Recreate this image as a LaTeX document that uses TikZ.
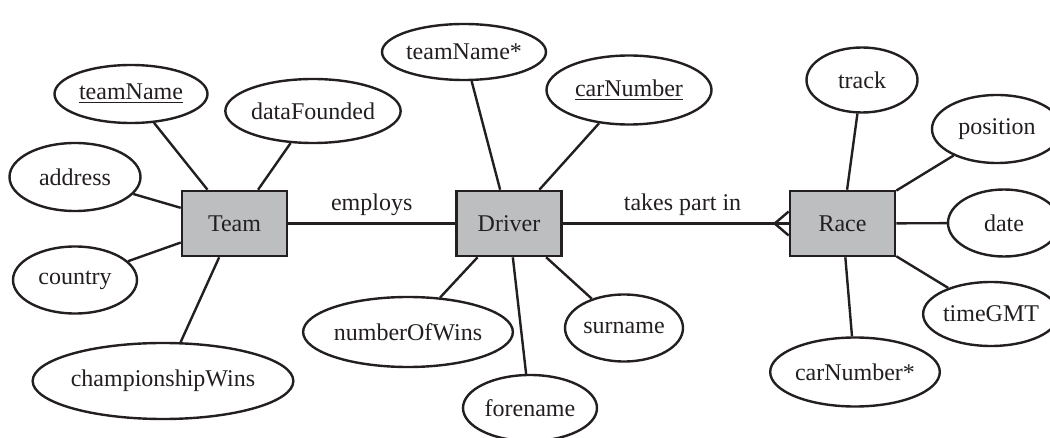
\documentclass[tikz,border=0pt]{standalone}
\usepackage{fontspec}
\setmainfont{Liberation Serif}
\usetikzlibrary{calc,shapes.geometric}
\definecolor{entfill}{RGB}{188,190,192}
\definecolor{ink}{RGB}{35,31,32}

\begin{document}
\begin{tikzpicture}[x=0.5pt, y=-0.5pt, line width=1.2pt, color=ink,
    font=\fontsize{12}{14}\selectfont,
    entity/.style={draw, fill=entfill, rectangle, line width=1.3pt,
      minimum width=52.5pt, minimum height=32.5pt, inner sep=0pt},
    attr/.style 2 args={draw, ellipse, inner sep=0pt,
      minimum width=#1, minimum height=#2}]
			%%%%% FRAME %%%%%
			\useasboundingbox (0, 0) rectangle (1050, 438);
			\clip (0, 0) rectangle (1050, 438);
			
			%%%%% ENTITIES %%%%%
			\node[entity] (team) at (234.5, 223.5) {Team};
			\node[entity] (driver) at (509, 223.5) {Driver};
			\node[entity] (race) at (842.5, 223.5) {Race};
			
			%%%%% TEAM ATTRIBUTES %%%%%
			\node[attr={76.5pt}{29pt}] (teamname) at (131, 94) {\underline{teamName}};
			\node[attr={82pt}{32pt}] (founded) at (313, 111) {dataFounded};
			\node[attr={65.5pt}{34pt}] (address) at (75, 177) {address};
			\node[attr={62pt}{33.5pt}] (country) at (75, 280) {country};
			\node[attr={110pt}{38pt}] (champwins) at (163, 381) {championshipWins};
			
			\draw (team) -- (teamname);
			\draw (team) -- (founded);
			\draw (team) -- (address);
			\draw (team) -- (country);
			\draw (team) -- (champwins);
			
			%%%%% DRIVER ATTRIBUTES %%%%%
			\node[attr={81pt}{28pt}] (teamfk) at (464, 52) {teamName*};
			\node[attr={82.5pt}{34.5pt}] (carnumber) at (629, 90) {\underline{carNumber}};
			\node[attr={91.5pt}{35pt}] (numwins) at (408, 332) {numberOfWins};
			\node[attr={67pt}{33pt}] (forename) at (530, 408) {forename};
			\node[attr={59pt}{33.5pt}] (surname) at (624, 328) {surname};
			
			\draw (driver) -- (teamfk);
			\draw (driver) -- (carnumber);
			\draw (driver) -- (numwins);
			\draw (driver) -- (forename);
			\draw (driver) -- (surname);
			
			%%%%% RACE ATTRIBUTES %%%%%
			\node[attr={55.5pt}{32.5pt}] (track) at (862, 80) {track};
			\node[attr={65pt}{34pt}] (position) at (997, 129) {position};
			\node[attr={56pt}{33.5pt}] (date) at (1004, 223) {date};
			\node[attr={64pt}{32pt}] (timegmt) at (991, 314) {timeGMT};
			\node[attr={83.5pt}{34.5pt}] (carfk) at (855, 372) {carNumber*};
			
			\draw (race) -- (track);
			\draw (race) -- (position);
			\draw (race) -- (date);
			\draw (race) -- (timegmt);
			\draw (race) -- (carfk);
			
			%%%%% RELATIONSHIPS %%%%%
			\draw (team) -- node[above] {employs} (driver);
			\draw (driver) -- node[above, pos=0.53] {takes part in} (race);
			
			% crow's foot on the race side
			\coordinate (foot) at ($(race.west)+(-14, 0)$);
			\coordinate (footup) at ($(race.west)+(0, -12)$);
			\coordinate (footdown) at ($(race.west)+(0, 12)$);
			\draw (footup) -- (foot) -- (footdown);
		\end{tikzpicture}
\end{document}
